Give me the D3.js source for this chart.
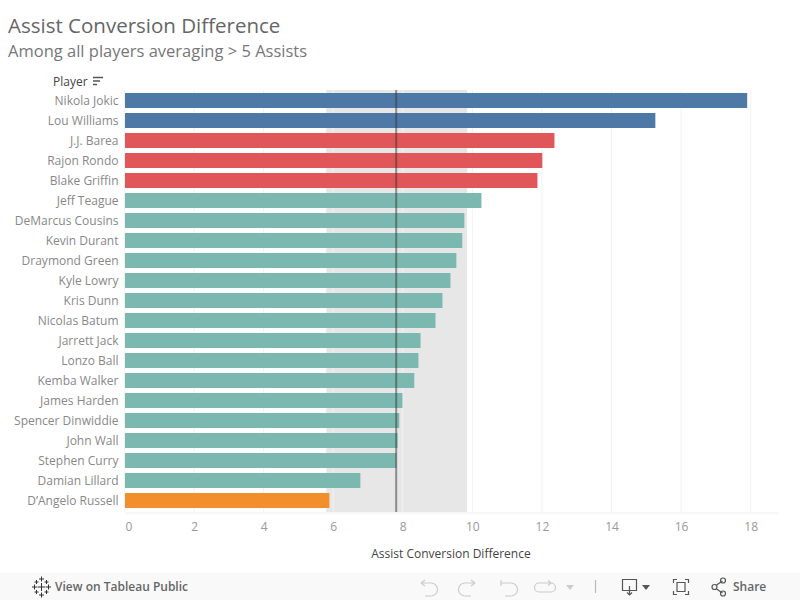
<!DOCTYPE html>
<html>
<head>
<meta charset="utf-8">
<script src="https://cdn.jsdelivr.net/npm/d3@7"></script>
<style>
  html, body { margin: 0; padding: 0; background: #fff; }
  svg { display: block; }
  text { font-family: "Open Sans", sans-serif; }
</style>
</head>
<body>
<div id="chart"></div>
<script>
var players = ["Nikola Jokic", "Lou Williams", "J.J. Barea", "Rajon Rondo", "Blake Griffin", "Jeff Teague",
    "DeMarcus Cousins", "Kevin Durant", "Draymond Green", "Kyle Lowry", "Kris Dunn", "Nicolas Batum",
    "Jarrett Jack", "Lonzo Ball", "Kemba Walker", "James Harden", "Spencer Dinwiddie", "John Wall",
    "Stephen Curry", "Damian Lillard", "D\u2019Angelo Russell"];
var values = [17.9, 15.26, 12.36, 12.01, 11.87, 10.26, 9.77, 9.71, 9.54, 9.37, 9.14, 8.94,
    8.51, 8.45, 8.33, 7.99, 7.9, 7.85, 7.82, 6.78, 5.89];
var groups = ["top", "top", "high", "high", "high", "mid", "mid", "mid", "mid", "mid", "mid", "mid",
    "mid", "mid", "mid", "mid", "mid", "mid", "mid", "mid", "low"];
var groupNames = ["top", "high", "mid", "low"];
var groupColors = ["#4e79a7", "#e15759", "#7ab8b0", "#f28e2b"];
var xTicks = [0, 2, 4, 6, 8, 10, 12, 14, 16, 18];
var bandRange = [5.8, 9.85];
var average = 7.81;

var width = 800, height = 600;
var svg = d3.select("#chart").append("svg").attr("width", width).attr("height", height);

var x = d3.scaleLinear().domain([0, 18.8]).range([124.5, 778.5]);
var y = d3.scaleBand().domain(players).range([90.5, 510.5]).paddingInner(0.25).paddingOuter(0.125);
var color = d3.scaleOrdinal().domain(groupNames).range(groupColors);

// titles
svg.append("text").attr("x", 8).attr("y", 33).attr("font-size", 20.5).attr("fill", "#666").text("Assist Conversion Difference");
svg.append("text").attr("x", 8).attr("y", 57).attr("font-size", 16.5).attr("fill", "#777").text("Among all players averaging > 5 Assists");

// reference band sits behind the grid
svg.append("rect")
    .attr("x", x(bandRange[0])).attr("y", 90)
    .attr("width", x(bandRange[1]) - x(bandRange[0])).attr("height", 422)
    .attr("fill", "#e7e7e7");

svg.append("g").selectAll("line").data(xTicks).enter().append("line")
    .attr("x1", function (d) { return x(d); })
    .attr("x2", function (d) { return x(d); })
    .attr("y1", 90).attr("y2", 512)
    .attr("stroke", "#f2f2f2").attr("stroke-width", 1);

// bars
svg.append("g").selectAll("rect").data(players).enter().append("rect")
    .attr("x", x(0) + 0.5)
    .attr("y", function (d) { return y(d); })
    .attr("width", function (d, i) { return x(values[i]) - x(0) - 0.5; })
    .attr("height", y.bandwidth())
    .attr("fill", function (d, i) { return color(groups[i]); });

// average line on top of the bars
svg.append("line")
    .attr("x1", x(average)).attr("x2", x(average))
    .attr("y1", 90).attr("y2", 512)
    .attr("stroke", "#333").attr("stroke-opacity", 0.5).attr("stroke-width", 2);

// player labels
svg.append("g").selectAll("text").data(players).enter().append("text")
    .attr("x", 118.5)
    .attr("y", function (d) { return y(d) + y.bandwidth() / 2; })
    .attr("dy", "0.35em")
    .attr("text-anchor", "end")
    .attr("font-size", 12)
    .attr("fill", "#888")
    .text(function (d) { return d; });

// x axis
var xAxis = svg.append("g").attr("transform", "translate(0,512.5)")
    .call(d3.axisBottom(x).tickValues(xTicks).tickSize(0).tickPadding(10).tickFormat(d3.format("d")));
xAxis.select(".domain").attr("stroke", "#f0f0f0");
xAxis.selectAll("text").attr("font-size", 12).attr("fill", "#999").attr("font-family", "\"Open Sans\", sans-serif");
xAxis.selectAll(".tick").filter(function (d) { return d === 0; }).select("text").attr("dx", 4);

svg.append("text").attr("x", 451).attr("y", 558).attr("text-anchor", "middle")
    .attr("font-size", 12).attr("font-weight", 500).attr("fill", "#444").text("Assist Conversion Difference");

// column header with sort icon
svg.append("text").attr("x", 53).attr("y", 86).attr("font-size", 12).attr("font-weight", 500).attr("fill", "#444").text("Player");
var sortIcon = svg.append("g").attr("stroke", "#555").attr("stroke-width", 1.5);
[[93, 103, 77.5], [93, 100, 81], [93, 97, 84.5]].forEach(function (s) {
    sortIcon.append("line").attr("x1", s[0]).attr("x2", s[1]).attr("y1", s[2]).attr("y2", s[2]);
});

// toolbar
svg.append("rect").attr("x", 0).attr("y", 573).attr("width", 800).attr("height", 27).attr("fill", "#f9f9f9");
svg.append("text").attr("x", 55).attr("y", 591).attr("font-size", 12).attr("font-weight", 600).attr("fill", "#666").text("View on Tableau Public");
svg.append("text").attr("x", 733).attr("y", 591).attr("font-size", 12).attr("font-weight", 600).attr("fill", "#666").text("Share");

// tableau logo
var logo = svg.append("g").attr("stroke", "#333").attr("stroke-width", 1);
[[41.5, 587, 4], [41.5, 579, 2.5], [41.5, 595, 2.5], [34.5, 587, 2.5], [48.5, 587, 2.5], [36.5, 582, 2], [46.5, 582, 2], [36.5, 592, 2], [46.5, 592, 2]].forEach(function (p) {
    logo.append("line").attr("x1", p[0] - p[2]).attr("x2", p[0] + p[2]).attr("y1", p[1]).attr("y2", p[1]);
    logo.append("line").attr("x1", p[0]).attr("x2", p[0]).attr("y1", p[1] - p[2]).attr("y2", p[1] + p[2]);
});

// toolbar icons
var icons = svg.append("g").attr("fill", "none").attr("stroke-width", 1.2);
icons.append("path").attr("stroke", "#ccc").attr("d", "M421 583 h10 a6.5 6.5 0 0 1 0 13 h-6 M421 583 l4 -3 M421 583 l4 3");
icons.append("path").attr("stroke", "#ccc").attr("d", "M475 583 h-10 a6.5 6.5 0 0 0 0 13 h6 M475 583 l-4 -3 M475 583 l-4 3");
icons.append("path").attr("stroke", "#ccc").attr("d", "M501 580 v6 M501 583 h10 a6.5 6.5 0 0 1 0 13 h-6");
icons.append("path").attr("stroke", "#ccc").attr("d", "M551 583 h-12 a4.5 4.5 0 0 0 0 9 h12 a4.5 4.5 0 0 0 0 -9 M548 580.5 l3 2.5 l-3 2.5");
icons.append("path").attr("fill", "#ccc").attr("d", "M566 585 h8 l-4 5 z");
icons.append("line").attr("stroke", "#bbb").attr("x1", 595.5).attr("x2", 595.5).attr("y1", 580).attr("y2", 593);
icons.append("path").attr("stroke", "#555").attr("d", "M622.5 579.5 h14 v11 h-14 z M629.5 586 v9 M627 592.5 l2.5 2.5 l2.5 -2.5");
icons.append("path").attr("fill", "#555").attr("d", "M642 585 h8 l-4 5 z");
icons.append("path").attr("stroke", "#555").attr("d", "M673.5 583 v-3.5 h3.5 M685 579.5 h3.5 v3.5 M688.5 591 v3.5 h-3.5 M677 594.5 h-3.5 v-3.5 M677 582.5 h8 v9 h-8 z");
icons.append("path").attr("stroke", "#555").attr("d", "M716.5 585 l6 -4 M716.5 589 l6 4");
[[714.5, 587], [723, 580.5], [723, 593.5]].forEach(function (c) {
    icons.append("circle").attr("stroke", "#555").attr("cx", c[0]).attr("cy", c[1]).attr("r", 2.5);
});
</script>
</body>
</html>
